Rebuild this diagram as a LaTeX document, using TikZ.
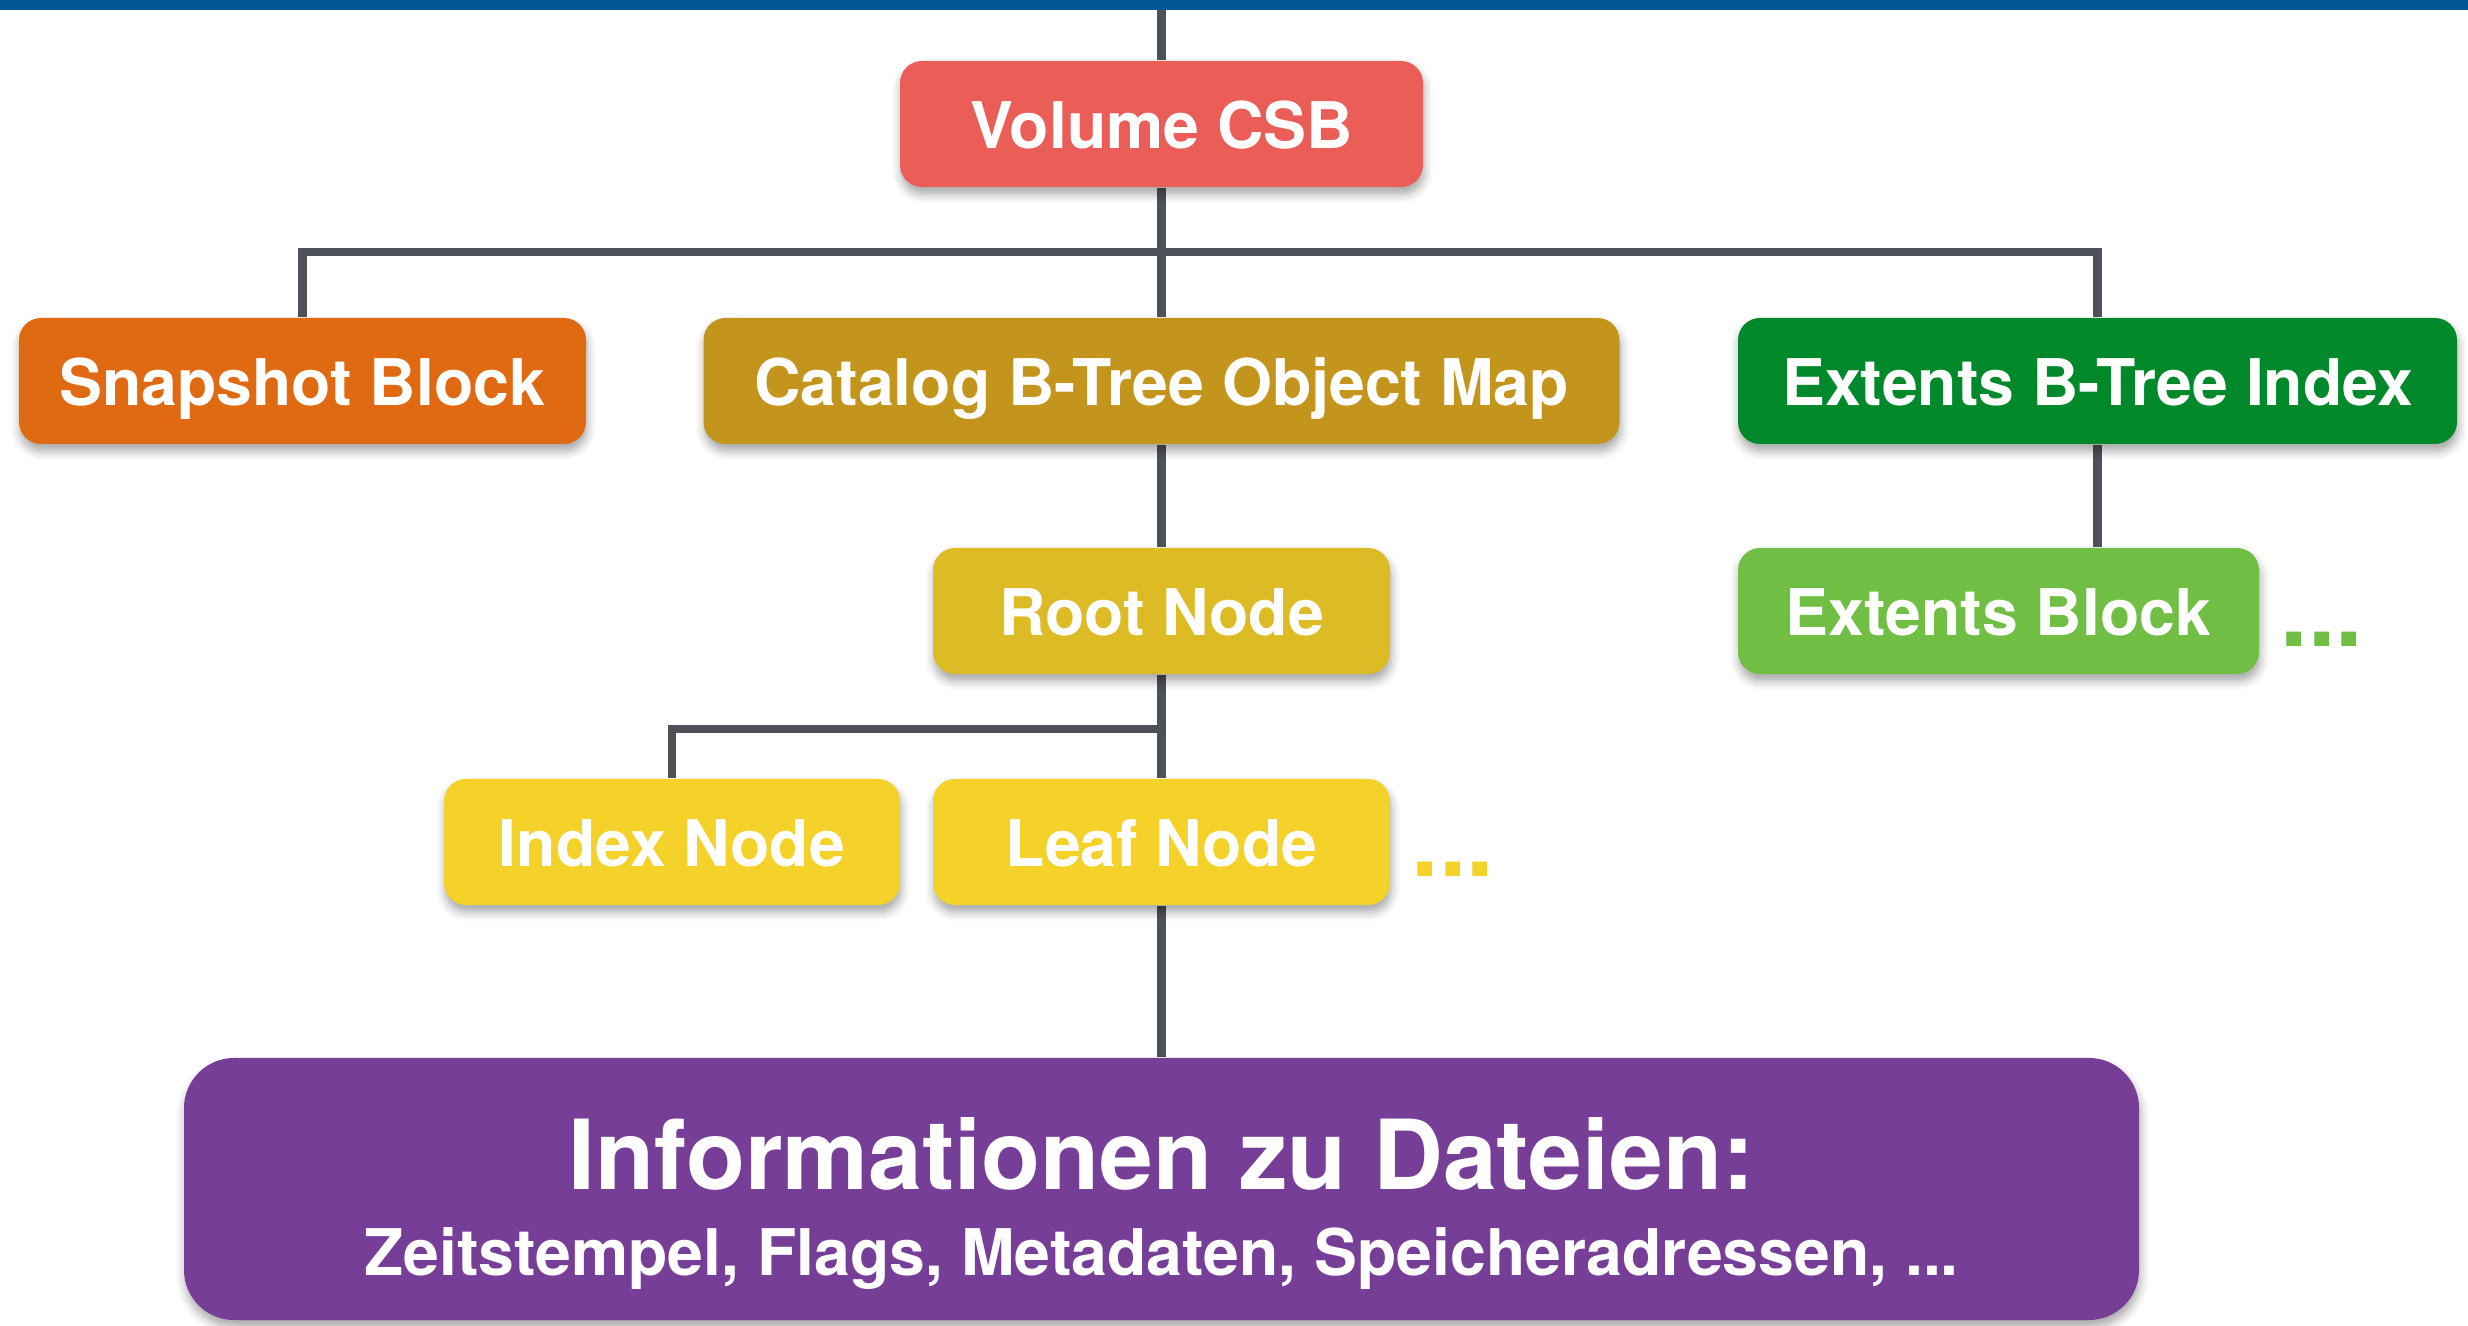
\documentclass[tikz,border=0pt]{standalone}
\usepackage{fontspec}
\setmainfont{TeX Gyre Heros}
\usetikzlibrary{shadows.blur,backgrounds}

\definecolor{barra}{RGB}{0,87,148}
\definecolor{linha}{RGB}{78,81,88}
\definecolor{vermelho}{RGB}{235,94,88}
\definecolor{laranja}{RGB}{224,106,18}
\definecolor{ocre}{RGB}{196,149,28}
\definecolor{verdeesc}{RGB}{0,137,43}
\definecolor{mostarda}{RGB}{220,187,36}
\definecolor{verde}{RGB}{112,190,68}
\definecolor{amarelo}{RGB}{244,210,42}
\definecolor{roxo}{RGB}{119,62,152}

\tikzset{
  sombra/.style={blur shadow={shadow xshift=0.3pt, shadow yshift=-2pt, shadow blur radius=2.5pt, shadow opacity=35}},
  bloco/.style={rectangle, rounded corners=0.22cm, text=white, font=\fontsize{18.3}{20}\selectfont\bfseries,
    minimum height=1.26cm, text height=14pt, text depth=0pt, inner sep=0pt, sombra},
  aresta/.style={draw=linha, line width=0.085cm},
  pontos/.style={font=\fontsize{28}{28}\selectfont\bfseries, inner sep=0pt, anchor=base west}
}

\begin{document}
\begin{tikzpicture}
            \useasboundingbox (0,0) rectangle (24.68,-13.26);

            %caixas
            \draw (11.615,-1.24) node[bloco, fill=vermelho, minimum width=5.23cm](csb){Volume CSB}
            (3.025,-3.81) node[bloco, fill=laranja, minimum width=5.67cm](snap){Snapshot Block}
            (11.615,-3.81) node[bloco, fill=ocre, minimum width=9.16cm](catalog){Catalog B-Tree Object Map}
            (20.975,-3.81) node[bloco, fill=verdeesc, minimum width=7.19cm](extidx){Extents B-Tree Index}
            (11.615,-6.11) node[bloco, fill=mostarda, minimum width=4.57cm](root){Root Node}
            (19.985,-6.11) node[bloco, fill=verde, minimum width=5.21cm](extblk){Extents Block}
            (6.72,-8.42) node[bloco, fill=amarelo, minimum width=4.56cm](index){Index Node}
            (11.615,-8.42) node[bloco, fill=amarelo, minimum width=4.57cm](leaf){Leaf Node}
            (11.615,-11.89) node[bloco, fill=roxo, rounded corners=0.5cm, minimum width=19.55cm, minimum height=2.62cm,
              font=\fontsize{27.5}{30}\selectfont\bfseries, text height=10pt, text depth=9.6pt](info){Informationen zu Dateien:};
            \node[text=white, font=\fontsize{18.3}{20}\selectfont\bfseries, anchor=base] (infosub) at (11.615,-12.75)
              {Zeitstempel, Flags, Metadaten, Speicheradressen, ...};

            \node[pontos, text=amarelo] (maisfolhas) at (14.11,-8.77) {...};
            \node[pontos, text=verde] (maisext) at (22.80,-6.47) {...};

            %ligações
            \coordinate (topo) at (11.615,-0.08);
            \coordinate (bus1) at (11.615,-2.52);
            \coordinate (bus2) at (11.615,-7.29);
            \begin{scope}[on background layer]
            \draw[aresta] (topo) -- (csb);
            \draw[aresta] (csb) -- (catalog);
            \draw[aresta] (snap) |- (bus1) -| (extidx);
            \draw[aresta] (catalog) -- (root);
            \draw[aresta] (root) -- (leaf);
            \draw[aresta] (index) |- (bus2);
            \draw[aresta] (leaf) -- (info);
            \draw[aresta] (extidx.south) -- (extidx.south |- extblk.north);
            \end{scope}

            \fill[barra] (0,0) rectangle (24.68,-0.105);
        \end{tikzpicture}
\end{document}
